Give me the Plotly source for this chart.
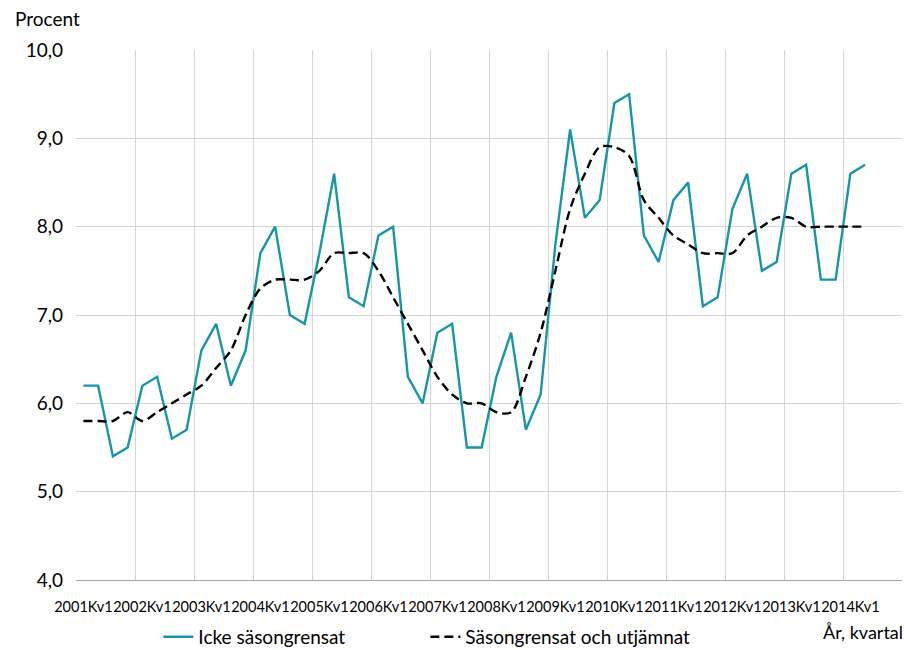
import plotly.graph_objects as go

years = list(range(2001, 2015))
quarters = ["Kv1", "Kv2", "Kv3", "Kv4"]
categories = [f"{y}{q}" for y in years for q in quarters]

icke = [6.2, 6.2, 5.4, 5.5,
        6.2, 6.3, 5.6, 5.7,
        6.6, 6.9, 6.2, 6.6,
        7.7, 8.0, 7.0, 6.9,
        7.7, 8.6, 7.2, 7.1,
        7.9, 8.0, 6.3, 6.0,
        6.8, 6.9, 5.5, 5.5,
        6.3, 6.8, 5.7, 6.1,
        7.8, 9.1, 8.1, 8.3,
        9.4, 9.5, 7.9, 7.6,
        8.3, 8.5, 7.1, 7.2,
        8.2, 8.6, 7.5, 7.6,
        8.6, 8.7, 7.4, 7.4,
        8.6, 8.7, None, None]

utjamnat = [5.8, 5.8, 5.8, 5.9,
            5.8, 5.9, 6.0, 6.1,
            6.2, 6.4, 6.6, 7.0,
            7.3, 7.4, 7.4, 7.4,
            7.5, 7.7, 7.7, 7.7,
            7.5, 7.2, 6.9, 6.6,
            6.3, 6.1, 6.0, 6.0,
            5.9, 5.9, 6.3, 6.8,
            7.5, 8.2, 8.6, 8.9,
            8.9, 8.8, 8.3, 8.1,
            7.9, 7.8, 7.7, 7.7,
            7.7, 7.9, 8.0, 8.1,
            8.1, 8.0, 8.0, 8.0,
            8.0, 8.0, None, None]

name_icke = "Icke säsongrensat"
name_utj = "Säsongrensat och utjämnat"

FONT = "Lato, 'Open Sans', sans-serif"

fig = go.Figure()
fig.add_trace(go.Scatter(x=categories, y=icke, name=name_icke, mode="lines",
                         line=dict(color="#1795A9", width=2.4)))
fig.add_trace(go.Scatter(x=categories, y=utjamnat, name=name_utj, mode="lines",
                         line=dict(color="#000000", width=2.4, dash="9px,5px",
                                   shape="spline", smoothing=0.9)))

fig.update_layout(
    width=902, height=642,
    margin=dict(l=68, r=8, t=42, b=70, autoexpand=False),
    paper_bgcolor="white", plot_bgcolor="white",
    separators=", ",
    font=dict(family=FONT, size=18, color="#000000"),
    showlegend=True,
    legend=dict(orientation="h", x=0.0997, xanchor="left", y=-0.1075,
                yanchor="middle", font=dict(size=19), tracegroupgap=0,
                entrywidth=222, entrywidthmode="pixels"),
    xaxis=dict(type="category", categoryorder="array", categoryarray=categories,
               range=[-0.5, len(categories) - 0.5],
               tickmode="linear", tick0=0, dtick=4, tickson="boundaries",
               showgrid=True, gridcolor="#d4d4d4", gridwidth=1,
               showline=True, linecolor="#a6a6a6", linewidth=1,
               ticks="", tickangle=0, tickfont=dict(size=14.5),
               ticklabelstandoff=14, automargin=False,
               zeroline=False, fixedrange=True),
    yaxis=dict(range=[4, 10], tickmode="linear", tick0=4, dtick=1,
               tickformat=".1f", showgrid=True, gridcolor="#d4d4d4", gridwidth=1,
               zeroline=False, showline=False, ticks="", tickfont=dict(size=19),
               ticklabelstandoff=12, automargin=False),
    annotations=[
        dict(text="Procent", xref="paper", yref="paper", x=-0.076, y=1.0,
             xanchor="left", yanchor="bottom", yshift=18, showarrow=False,
             font=dict(size=19)),
        dict(text="År, kvartal", xref="paper", yref="paper", x=1.004, y=0.0,
             xanchor="right", yanchor="middle", yshift=-52, showarrow=False,
             font=dict(size=18)),
    ],
)

fig.write_html("out.html")
